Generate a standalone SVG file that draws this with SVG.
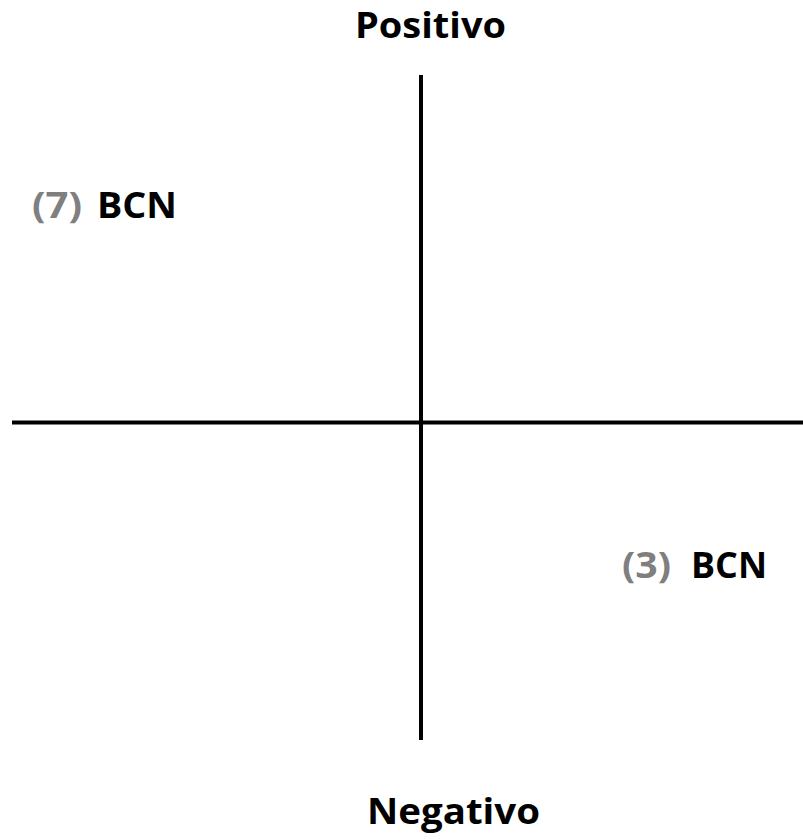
<svg xmlns="http://www.w3.org/2000/svg" width="803" height="839" viewBox="0 0 803 839">
<style>
.t{font-family:"Open Sans","Liberation Sans",sans-serif;font-weight:bold;font-size:36px;fill:#000}
.g{fill:#7f7f7f}
.ax{stroke:#000;stroke-width:4;fill:none}
</style>
<rect width="803" height="839" fill="#fff"/>
<g id="connectors">
<line class="ax" x1="421" y1="75" x2="421" y2="740"/>
<line class="ax" x1="12" y1="422.5" x2="803" y2="422.5"/>
</g>
<g id="positivo"><text class="t" x="355" y="38" textLength="151" lengthAdjust="spacingAndGlyphs">Positivo</text></g>
<g id="negativo"><text class="t" x="367" y="824" textLength="173" lengthAdjust="spacingAndGlyphs">Negativo</text></g>
<g id="q7">
<text class="t g" x="32" y="218" textLength="50" lengthAdjust="spacingAndGlyphs">(7)</text>
<text class="t" x="97" y="218" textLength="80" lengthAdjust="spacingAndGlyphs">BCN</text>
</g>
<g id="q3">
<text class="t g" x="622" y="578" textLength="49" lengthAdjust="spacingAndGlyphs">(3)</text>
<text class="t" x="691" y="578" textLength="76" lengthAdjust="spacingAndGlyphs">BCN</text>
</g>
</svg>
